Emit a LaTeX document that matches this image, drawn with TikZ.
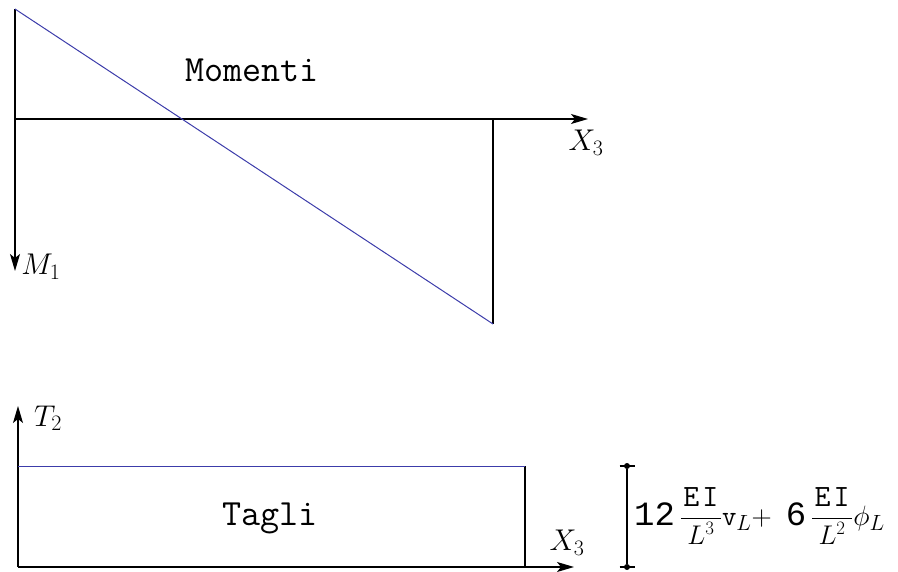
\RequirePackage{fix-cm}
\documentclass[tikz,border=0pt]{standalone}
\usepackage{fontspec}
\newfontfamily\numfont{Liberation Mono}
\usetikzlibrary{arrows.meta}
\definecolor{diagblue}{RGB}{60,60,170}
\tikzset{
  axis/.style={line width=1.3pt,-{Stealth[length=17pt,width=10pt,inset=4pt]}},
  edge/.style={line width=1.3pt},
  curve/.style={line width=1pt,diagblue},
  ttlabel/.style={font=\fontsize{37}{42}\selectfont\ttfamily,inner sep=0pt,anchor=base},
  mlabel/.style={font=\fontsize{30}{34}\selectfont,inner sep=0pt},
  endmark/.style={circle,fill=black,inner sep=0pt,minimum size=6pt}
}
\newcommand{\bignum}[1]{\hbox{\fontsize{34}{38}\selectfont\numfont #1}}
\newcommand{\numr}{\hbox to 40pt{\hss\fontsize{31}{34}\selectfont\ttfamily E\kern3pt I\hss}}
\newcommand{\den}[1]{\hbox{\fontsize{27}{30}\selectfont$#1$}}
\newcommand{\sbx}[1]{_{\hbox{\fontsize{22}{24}\selectfont #1}}}
\newcommand{\sbL}{_{\hbox{\fontsize{22}{24}\selectfont$L$}}}
\begin{document}
\begin{tikzpicture}[x=1pt,y=-1pt]
\useasboundingbox (0,0) rectangle (898,572);
% --- Momenti ---
\coordinate (mo) at (15,119);
\coordinate (mtop) at (15,9);
\coordinate (mdown) at (15,271);
\coordinate (mright) at (588,119);
\coordinate (mend) at (493,119);
\coordinate (mlow) at (493,324);
\draw[edge] (mtop) -- (mo);
\draw[axis] (mo) -- (mdown);
\draw[axis] (mo) -- (mright);
\draw[edge] (mend) -- (mlow);
\draw[curve] (mtop) -- (mlow);
\node[mlabel] (M1) at (41,267) {$M\sbx{1}$};
\node[mlabel] (X3a) at (586,143) {$X\sbx{3}$};
\node[ttlabel] (mom) at (252,82) {Momenti};
% --- Tagli ---
\coordinate (to) at (18,567);
\coordinate (tup) at (18,406);
\coordinate (tright) at (574,567);
\coordinate (tl) at (18,466);
\coordinate (tr) at (525,466);
\coordinate (tb) at (525,567);
\draw[axis] (to) -- (tup);
\draw[axis] (to) -- (tright);
\draw[edge] (tr) -- (tb);
\draw[curve] (tl) -- (tr);
\node[mlabel] (T2) at (48,418) {$T\sbx{2}$};
\node[mlabel] (X3b) at (567,543) {$X\sbx{3}$};
\node[ttlabel] (tag) at (270,525) {Tagli};
% --- value bracket ---
\node[endmark] (btop) at (627,466) {};
\node[endmark] (bbot) at (627,567) {};
\draw[edge] (btop) -- (bbot);
\draw[line width=1.3pt] (btop.center) ++(-7.5,0) -- ++(15,0);
\draw[line width=1.3pt] (bbot.center) ++(-7.5,0) -- ++(15,0);
\node[font=\fontsize{28}{32}\selectfont,inner sep=0pt,anchor=west] (val) at (634,516)
  {$\displaystyle\bignum{12}\,\frac{\numr}{\den{L^3}}\mathtt{v}\sbL\mathtt{+}\kern14pt\bignum{6}\,\frac{\numr}{\den{L^2}}\phi\sbL$};
\end{tikzpicture}
\end{document}
